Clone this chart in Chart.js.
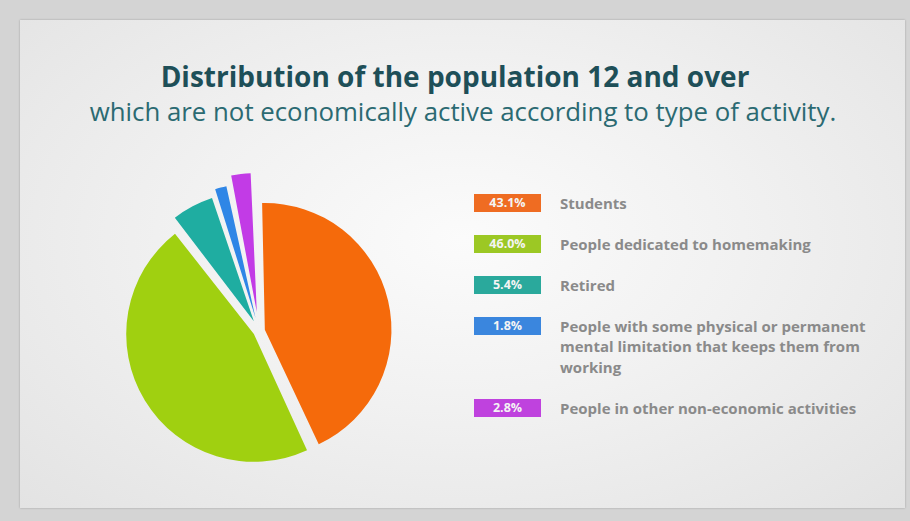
<!DOCTYPE html>
<html>
<head>
<meta charset="utf-8">
<script src="https://cdn.jsdelivr.net/npm/chart.js@4/dist/chart.umd.min.js"></script>
<style>
  html,body{margin:0;padding:0;}
  body{width:910px;height:521px;background:#d4d4d4;position:relative;overflow:hidden;font-family:"Open Sans",sans-serif;}
  #panel{position:absolute;left:20px;top:20px;width:885px;height:488px;
    background:radial-gradient(ellipse at 50% 45%, #fbfbfb 0%, #f1f1f1 45%, #e3e3e3 100%);
    box-shadow:0 0 2px rgba(0,0,0,0.25);}
  #title{position:absolute;left:0;width:910px;top:62px;text-align:center;font-weight:700;font-size:28px;line-height:28px;color:#1e4f58;white-space:nowrap;}
  #subtitle{position:absolute;left:0;width:926px;top:99px;text-align:center;font-weight:400;font-size:25.8px;line-height:25.8px;color:#2b6a72;white-space:nowrap;}
  #c{position:absolute;left:99px;top:151px;}
  #legend{position:absolute;left:474px;top:193px;width:430px;}
  .row{display:flex;align-items:flex-start;margin-bottom:21px;}
  .box{width:67px;height:18px;margin-top:1px;color:#f4f4f4;font-size:12.5px;font-weight:700;text-align:center;line-height:18px;flex:none;}
  .lbl{margin-left:19px;font-size:15px;font-weight:700;color:#8a8a8a;line-height:20.5px;margin-top:-0.5px;white-space:nowrap;}
</style>
</head>
<body>
<div id="panel"></div>
<div id="title">Distribution of the population 12 and over</div>
<div id="subtitle">which are not economically active according to type of activity.</div>
<canvas id="c" width="320" height="360"></canvas>
<div id="legend"></div>
<script>
const categories = [
  "Students",
  "People dedicated to homemaking",
  "Retired",
  "People with some physical or permanent mental limitation that keeps them from working",
  "People in other non-economic activities"
];
const labelLines = [
  ["Students"],
  ["People dedicated to homemaking"],
  ["Retired"],
  ["People with some physical or permanent", "mental limitation that keeps them from", "working"],
  ["People in other non-economic activities"]
];
const percentages = [43.1, 46.0, 5.4, 1.8, 2.8];
const sliceColors = ["#f56a0b", "#a0d010", "#1fada1", "#2f86e6", "#c23be6"];
const boxColors = ["#ef6c22", "#9cc824", "#2aa99c", "#3a86de", "#bf42de"];
// Chart.js v4 translates an arc by offset/4
const sliceOffsets = [24, 24, 44, 54, 77];

const legend = document.getElementById('legend');
categories.forEach((c, i) => {
  const row = document.createElement('div');
  row.className = 'row';
  const box = document.createElement('div');
  box.className = 'box';
  box.style.background = boxColors[i];
  box.textContent = percentages[i].toFixed(1) + '%';
  const lbl = document.createElement('div');
  lbl.className = 'lbl';
  lbl.innerHTML = labelLines[i].join('<br>');
  row.appendChild(box); row.appendChild(lbl);
  legend.appendChild(row);
});

new Chart(document.getElementById('c'), {
  type: 'pie',
  data: {
    labels: categories,
    datasets: [{
      data: percentages,
      backgroundColor: sliceColors,
      borderWidth: 0,
      offset: sliceOffsets,
      radius: 123
    }]
  },
  options: {
    responsive: false,
    maintainAspectRatio: false,
    animation: false,
    rotation: -1.5,
    layout: { padding: 0 },
    plugins: { legend: { display: false }, tooltip: { enabled: false }, title: { display: false } }
  }
});
</script>
</body>
</html>
